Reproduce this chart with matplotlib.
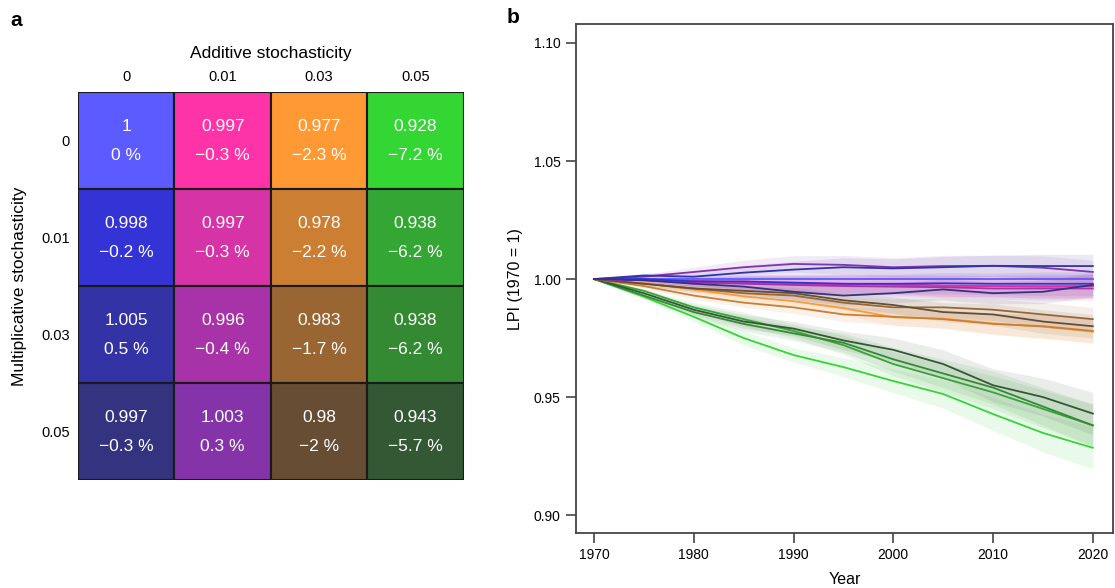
import numpy as np
import matplotlib
matplotlib.use("Agg")
import matplotlib.pyplot as plt

plt.rcParams['font.family'] = ['Liberation Sans', 'DejaVu Sans']

# Panel a: final LPI for each (multiplicative, additive) combination
additive_levels = ["0", "0.01", "0.03", "0.05"]
multiplicative_levels = ["0", "0.01", "0.03", "0.05"]
final_lpi = [
    [1.0, 0.997, 0.977, 0.928],
    [0.998, 0.997, 0.978, 0.938],
    [1.005, 0.996, 0.983, 0.938],
    [0.997, 1.003, 0.98, 0.943],
]
cell_colors = [
    ["#5b5bff", "#ff33a8", "#ff9933", "#33d633"],
    ["#3333d6", "#d633a6", "#cc7f33", "#33a633"],
    ["#3333a6", "#a833a8", "#996633", "#338a33"],
    ["#333380", "#8533a8", "#664d33", "#335833"],
]

# Panel b: simulated LPI trajectories (read every 5 years)
years = [1970, 1975, 1980, 1985, 1990, 1995, 2000, 2005, 2010, 2015, 2020]

blue_m0 = [1.0, 1.0, 1.0, 1.0, 1.0, 1.0, 1.0, 1.0, 1.0, 1.0, 1.0]
blue_m01 = [1.0, 1.0, 0.999, 0.999, 0.9985, 0.998, 0.998, 0.9982, 0.998, 0.998, 0.998]
blue_m03 = [1.0, 1.0015, 1.001, 1.0027, 1.004, 1.005, 1.0045, 1.005, 1.0056, 1.0055, 1.0055]
blue_m05 = [1.0, 0.9995, 0.998, 0.9968, 0.9946, 0.993, 0.994, 0.9956, 0.994, 0.9946, 0.9975]

pink_m0 = [1.0, 0.9995, 0.999, 0.9985, 0.998, 0.998, 0.9975, 0.997, 0.997, 0.997, 0.997]
pink_m01 = [1.0, 0.9998, 0.9992, 0.9985, 0.998, 0.9975, 0.9978, 0.9972, 0.997, 0.9968, 0.997]
pink_m03 = [1.0, 0.9995, 0.9985, 0.998, 0.9975, 0.997, 0.9968, 0.9965, 0.996, 0.996, 0.996]
pink_m05 = [1.0, 1.001, 1.003, 1.005, 1.0064, 1.006, 1.005, 1.0055, 1.0056, 1.0048, 1.003]

orange_m0 = [1.0, 0.9982, 0.9955, 0.9927, 0.9906, 0.9877, 0.9838, 0.9833, 0.9812, 0.9798, 0.9777]
orange_m01 = [1.0, 0.997, 0.993, 0.990, 0.988, 0.985, 0.984, 0.983, 0.981, 0.980, 0.978]
orange_m03 = [1.0, 0.998, 0.996, 0.994, 0.993, 0.990, 0.988, 0.988, 0.987, 0.985, 0.983]
orange_m05 = [1.0, 0.998, 0.996, 0.995, 0.994, 0.991, 0.989, 0.986, 0.985, 0.982, 0.980]

green_m0 = [1.0, 0.9925, 0.984, 0.975, 0.9678, 0.9627, 0.9568, 0.9513, 0.9428, 0.9348, 0.9285]
green_m01 = [1.0, 0.995, 0.988, 0.983, 0.978, 0.972, 0.964, 0.958, 0.952, 0.945, 0.938]
green_m03 = [1.0, 0.993, 0.986, 0.981, 0.977, 0.973, 0.966, 0.960, 0.954, 0.946, 0.938]
green_m05 = [1.0, 0.994, 0.987, 0.982, 0.979, 0.974, 0.970, 0.964, 0.955, 0.950, 0.943]

# half-width of the shaded uncertainty band, per additive level
band_blue = [0, 0.001, 0.002, 0.003, 0.0035, 0.004, 0.004, 0.0045, 0.0045, 0.005, 0.005]
band_pink = [0, 0.001, 0.002, 0.003, 0.0035, 0.004, 0.004, 0.0045, 0.0045, 0.005, 0.005]
band_orange = [0, 0.0008, 0.0015, 0.002, 0.0025, 0.003, 0.0035, 0.004, 0.0045, 0.005, 0.005]
band_green = [0, 0.001, 0.002, 0.003, 0.003, 0.004, 0.005, 0.006, 0.007, 0.008, 0.009]

series = [
    [blue_m0, pink_m0, orange_m0, green_m0],
    [blue_m01, pink_m01, orange_m01, green_m01],
    [blue_m03, pink_m03, orange_m03, green_m03],
    [blue_m05, pink_m05, orange_m05, green_m05],
]
bands = [band_blue, band_pink, band_orange, band_green]


def fmt_pct(v):
    p = round((v - 1) * 100, 1)
    if p == 0:
        p = 0.0
    return f"{p:g}".replace("-", "\u2212") + " %"


fig = plt.figure(figsize=(11.15, 5.88), dpi=100)

# ---- panel a: heatmap ----
ax1 = fig.add_axes([0.070, 0.1837, 0.346, 0.66])
for i in range(4):
    for j in range(4):
        ax1.add_patch(plt.Rectangle((j, i), 1, 1, facecolor=cell_colors[i][j],
                                    edgecolor="#1a1a1a", linewidth=1.5))
        v = final_lpi[i][j]
        ax1.text(j + 0.5, i + 0.36, f"{v:g}", color="white", fontsize=12.5,
                 ha="center", va="center")
        ax1.text(j + 0.5, i + 0.66, fmt_pct(v), color="white", fontsize=12.5,
                 ha="center", va="center")
ax1.set_xlim(0, 4)
ax1.set_ylim(4, 0)
ax1.set_xticks(np.arange(4) + 0.5)
ax1.set_xticklabels(additive_levels, fontsize=10.5)
ax1.set_yticks(np.arange(4) + 0.5)
ax1.set_yticklabels(multiplicative_levels, fontsize=10.5)
ax1.xaxis.tick_top()
ax1.tick_params(length=0, pad=6)
for s in ax1.spines.values():
    s.set_visible(False)
ax1.set_xlabel("Additive stochasticity", fontsize=12.5, labelpad=8)
ax1.xaxis.set_label_position("top")
ax1.set_ylabel("Multiplicative stochasticity", fontsize=12.5, labelpad=10)

# ---- panel b: trajectories ----
ax2 = fig.add_axes([0.5166, 0.0935, 0.4814, 0.8655])
yr = np.array(years)
for j in range(4):
    for i in range(4):
        y = np.array(series[i][j])
        if not (i == 0 and j == 0):
            b = np.array(bands[j])
            ax2.fill_between(yr, y - b, y + b, color=cell_colors[i][j],
                             alpha=0.1, linewidth=0)
for j in [3, 2, 1, 0]:
    for i in range(4):
        ax2.plot(yr, series[i][j], color=cell_colors[i][j], linewidth=1.3)

ax2.set_xlim(1968.2, 2022)
ax2.set_ylim(0.8924, 1.108)
ax2.set_xticks(range(1970, 2021, 10))
ax2.set_yticks([0.90, 0.95, 1.00, 1.05, 1.10])
ax2.set_yticklabels(["0.90", "0.95", "1.00", "1.05", "1.10"])
ax2.tick_params(direction="out", length=7, width=1.2, color="#444444",
                labelsize=10, pad=4)
for s in ax2.spines.values():
    s.set_color("#444444")
    s.set_linewidth(1.3)
ax2.set_xlabel("Year", fontsize=11.5, labelpad=7)
ax2.set_ylabel("LPI (1970 = 1)", fontsize=11.5, labelpad=8)

fig.text(0.009, 0.965, "a", fontsize=15, fontweight="bold", va="center")
fig.text(0.454, 0.97, "b", fontsize=15, fontweight="bold", va="center")

fig.savefig("out.png", dpi=100)
